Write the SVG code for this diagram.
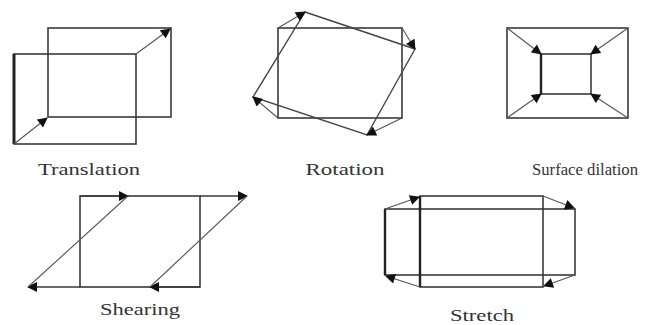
<svg xmlns="http://www.w3.org/2000/svg" width="653" height="325" viewBox="0 0 653 325">
<style>
.shape{fill:none;stroke:#3a3a3a;stroke-width:1.6}
.thick{fill:none;stroke:#222;stroke-width:3}
.conn{fill:none;stroke:#555;stroke-width:1.1}
.lbl{font-family:"Liberation Serif",serif;font-size:16px;fill:#333;text-anchor:middle}
</style>
<defs>
<marker id="ah" viewBox="0 0 10 10" refX="9" refY="5" markerWidth="11" markerHeight="10" markerUnits="userSpaceOnUse" orient="auto">
<path d="M0,0 L10,5 L0,10 Z" fill="#111"/>
</marker>
</defs>
<rect width="653" height="325" fill="#fff"/>
<g id="translation">
<rect class="shape" x="48" y="28" width="123" height="89"/>
<rect class="shape" x="14" y="54" width="122" height="90"/>
<line class="thick" x1="14" y1="54" x2="14" y2="144"/>
<text class="lbl" x="89" y="175" textLength="102" lengthAdjust="spacingAndGlyphs">Translation</text>
</g>
<g id="rotation">
<rect class="shape" x="278" y="28" width="124" height="90"/>
<polygon class="conn" points="305,12 415,49 367,135 253,97" style="stroke-width:1.4;stroke:#444"/>
<text class="lbl" x="345" y="175" textLength="79" lengthAdjust="spacingAndGlyphs">Rotation</text>
</g>
<g id="surface-dilation">
<rect class="shape" x="507" y="28" width="121" height="90"/>
<rect class="shape" x="541" y="54" width="50" height="40"/>
<line class="thick" x1="541" y1="54" x2="541" y2="94" style="stroke-width:2.4"/>
<text class="lbl" x="585" y="175" textLength="106" lengthAdjust="spacingAndGlyphs">Surface dilation</text>
</g>
<g id="shearing">
<rect class="shape" x="80" y="196" width="120" height="91"/>
<text class="lbl" x="140" y="315" textLength="80" lengthAdjust="spacingAndGlyphs">Shearing</text>
</g>
<g id="stretch">
<rect class="shape" x="385" y="209" width="190" height="66"/>
<rect class="shape" x="420" y="196" width="123" height="91"/>
<line class="thick" x1="420" y1="196" x2="420" y2="287" style="stroke-width:2.4"/>
<line class="thick" x1="385" y1="209" x2="385" y2="275" style="stroke-width:2.4"/>
<text class="lbl" x="482" y="321" textLength="64" lengthAdjust="spacingAndGlyphs">Stretch</text>
</g>
<g id="connectors">
<line class="conn" x1="14" y1="144" x2="47" y2="118" marker-end="url(#ah)"/>
<line class="conn" x1="136" y1="54" x2="170" y2="29" marker-end="url(#ah)"/>
<line class="conn" x1="278" y1="28" x2="305" y2="12" marker-end="url(#ah)"/>
<line class="conn" x1="402" y1="28" x2="415" y2="49" marker-end="url(#ah)"/>
<line class="conn" x1="402" y1="118" x2="367" y2="135" marker-end="url(#ah)"/>
<line class="conn" x1="278" y1="118" x2="253" y2="97" marker-end="url(#ah)"/>
<line class="conn" x1="507" y1="28" x2="541" y2="54" marker-end="url(#ah)"/>
<line class="conn" x1="628" y1="28" x2="591" y2="54" marker-end="url(#ah)"/>
<line class="conn" x1="507" y1="118" x2="541" y2="94" marker-end="url(#ah)"/>
<line class="conn" x1="628" y1="118" x2="591" y2="94" marker-end="url(#ah)"/>
<line class="shape" x1="80" y1="196" x2="128" y2="196" marker-end="url(#ah)"/>
<line class="shape" x1="200" y1="196" x2="247" y2="196" marker-end="url(#ah)"/>
<line class="shape" x1="80" y1="287" x2="28" y2="287" marker-end="url(#ah)"/>
<line class="shape" x1="200" y1="287" x2="150" y2="287" marker-end="url(#ah)"/>
<line class="conn" x1="128" y1="196" x2="28" y2="287"/>
<line class="conn" x1="247" y1="196" x2="150" y2="287"/>
<line class="conn" x1="385" y1="209" x2="419" y2="197" marker-end="url(#ah)"/>
<line class="conn" x1="543" y1="196" x2="574" y2="208" marker-end="url(#ah)"/>
<line class="conn" x1="420" y1="287" x2="386" y2="276" marker-end="url(#ah)"/>
<line class="conn" x1="575" y1="275" x2="544" y2="286" marker-end="url(#ah)"/>
</g>
</svg>
